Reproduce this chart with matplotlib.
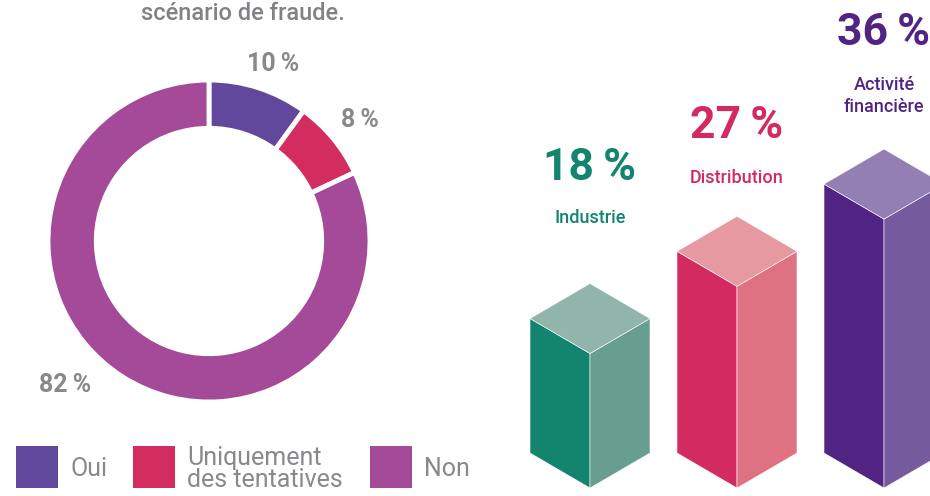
import matplotlib.pyplot as plt
from matplotlib.patches import Polygon, Rectangle

# donut data
PIE_LABELS = ["Oui", "Uniquement\ndes tentatives", "Non"]
PIE_VALUES = [10, 8, 82]
PIE_COLORS = ["#62489d", "#d32d5f", "#a44a98"]

# sector bars
SECTORS = ["Industrie", "Distribution", "Activité\nfinancière"]
SECTOR_VALUES = [18, 27, 36]
FRONT = ["#13846e", "#d32b5f", "#512484"]
SIDE = ["#679e90", "#df7282", "#765a9e"]
TOP = ["#91b4ab", "#e699a0", "#947fb5"]

GREY = "#87898c"
plt.rcParams["font.family"] = ["Roboto", "DejaVu Sans"]

W, H = 930, 496
fig = plt.figure(figsize=(W / 100, H / 100), dpi=100)

# overlay axes in pixel units (y pointing down)
ax = fig.add_axes([0, 0, 1, 1])
ax.set_xlim(0, W)
ax.set_ylim(H, 0)
ax.axis("off")

# ---- donut ----
cx, cy, R = 209, 241, 161
pax = fig.add_axes([(cx - R) / W, (H - cy - R) / H, 2 * R / W, 2 * R / H])
pax.pie(PIE_VALUES, colors=PIE_COLORS, startangle=90, counterclock=False,
        radius=1, wedgeprops=dict(width=0.30, edgecolor="white", linewidth=3.5))
pax.set_xlim(-1, 1)
pax.set_ylim(-1, 1)
pax.set_aspect("auto")
pax.axis("off")

ax.text(243, 14, "scénario de fraude.", color="#808285", fontsize=17,
        fontweight="medium", ha="center", va="center")

pie_label_pos = [(273, 64), (360, 120), (65, 385)]
for (x, y), v in zip(pie_label_pos, PIE_VALUES):
    ax.text(x, y, f"{v}\u2009%", color=GREY, fontsize=18, fontweight="bold",
            ha="center", va="center")

# legend
legend_x = [16, 133, 370]
for x, lab, col in zip(legend_x, PIE_LABELS, PIE_COLORS):
    ax.add_patch(Rectangle((x, 446), 42, 42, color=col, lw=0))
    ax.text(x + 54, 469, lab, color=GREY, fontsize=18, ha="left", va="center",
            linespacing=0.85)

# ---- isometric bars ----
PX_PER_PCT = 7.47
base_y = 488
half_w = 60
dy = 35
bar_cx = [590, 737, 884]
for i, v in enumerate(SECTOR_VALUES):
    x = bar_cx[i]
    top = base_y - v * PX_PER_PCT
    front = [(x - half_w, base_y - dy), (x, base_y), (x, top), (x - half_w, top - dy)]
    side = [(x, base_y), (x + half_w, base_y - dy), (x + half_w, top - dy), (x, top)]
    cap = [(x, top), (x - half_w, top - dy), (x, top - 2 * dy), (x + half_w, top - dy)]
    for pts, col in [(front, FRONT[i]), (side, SIDE[i]), (cap, TOP[i])]:
        ax.add_patch(Polygon(pts, closed=True, facecolor=col,
                             edgecolor="white", lw=0.4))

# value and sector labels
val_pos = [(589, 168), (737, 126), (883, 33)]
name_pos = [(590, 218), (737, 178), (884, 96)]
for i, v in enumerate(SECTOR_VALUES):
    ax.text(*val_pos[i], f"{v}\u2009%", color=FRONT[i], fontsize=32,
            fontweight="bold", ha="center", va="center")
    ax.text(*name_pos[i], SECTORS[i], color=FRONT[i], fontsize=13,
            fontweight="medium", ha="center", va="center", linespacing=1.3)

fig.savefig("out.png", dpi=100)
